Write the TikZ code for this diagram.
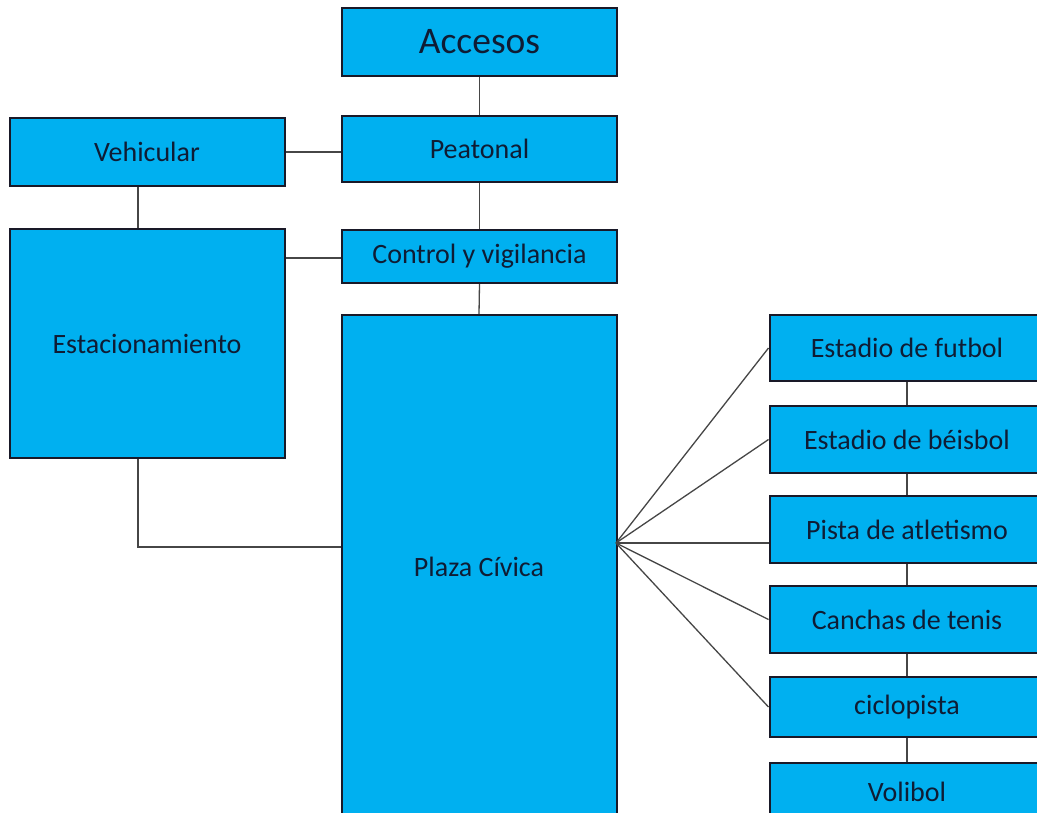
\documentclass[tikz,border=0pt]{standalone}
\usepackage{fontspec}
\setmainfont{Carlito}
\definecolor{boxblue}{RGB}{0,176,240}
\definecolor{boxline}{RGB}{25,25,40}
\definecolor{boxtext}{RGB}{15,28,52}
\definecolor{linkgray}{RGB}{70,70,70}
\tikzset{
  box/.style={draw=boxline,fill=boxblue,line width=2pt,text=boxtext,
    font=\fontsize{28}{32}\selectfont,minimum width=275pt,inner sep=0pt},
  link/.style={draw=linkgray,line width=1.3pt}
}
\begin{document}
\begin{tikzpicture}[x=1pt,y=-1pt]
  \useasboundingbox[fill=white] (0,0) rectangle (1037,812);
  \node[box,minimum height=68pt,font=\fontsize{37.5}{42}\selectfont] (acc) at (479.5,42) {Accesos};
  \node[box,minimum height=66pt] (peat) at (479.5,149) {Peatonal};
  \node[box,minimum height=68pt] (veh) at (147,152) {Vehicular};
  \node[box,minimum height=229pt] (est) at (147,343.5) {Estacionamiento};
  \node[box,minimum height=53pt] (ctrl) at (479.5,256.5) {Control y vigilancia};
  \node[box,minimum height=504pt] (plaza) at (479,567) {Plaza Cívica};
  \node[box,minimum height=66pt] (fut) at (907,348) {Estadio de futbol};
  \node[box,minimum height=67pt] (beis) at (907,439.5) {Estadio de béisbol};
  \node[box,minimum height=67pt] (pista) at (907,529.5) {Pista de atletismo};
  \node[box,minimum height=67pt] (ten) at (907,619.5) {Canchas de tenis};
  \node[box,minimum height=60pt] (cic) at (907,707) {ciclopista};
  \node[box,minimum height=58pt] (vol) at (907,792) {Volibol};
  \coordinate (f) at (616,543);
  \draw[link] (acc.south) -- (peat.north);
  \draw[link] (peat.south) -- (ctrl.north);
  \draw[link] (ctrl.south) -- (plaza.north);
  \draw[link] (veh.east) -- (veh.east -| peat.west);
  \draw[link] ([xshift=-9pt]veh.south) -- ([xshift=-9pt]est.north);
  \draw[link] (ctrl.west |- 0,258) -- (est.east |- 0,258);
  \draw[link] ([xshift=-9pt]est.south) |- (plaza.west |- 0,547);
  \foreach \b in {fut,beis,ten,cic} {
    \draw[link] (f) -- (\b.west);
  }
  \draw[link] (f) -- (f -| pista.west);
  \draw[link] (fut.south) -- (beis.north);
  \draw[link] (beis.south) -- (pista.north);
  \draw[link] (pista.south) -- (ten.north);
  \draw[link] (ten.south) -- (cic.north);
  \draw[link] (cic.south) -- (vol.north);
\end{tikzpicture}
\end{document}
